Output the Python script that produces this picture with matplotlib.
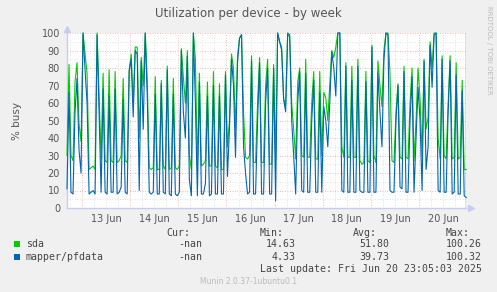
import numpy as np
import pandas as pd
import matplotlib
matplotlib.use('Agg')
import matplotlib.pyplot as plt
import matplotlib.dates as mdates
from matplotlib.patches import Rectangle

# hourly samples, % busy (12 Jun 16:30 -> 20 Jun 23:30)
sda = [30, 82, 30, 27, 72, 83, 48, 38, 100, 88,
       77, 22, 23, 24, 22, 100, 65, 28, 77, 27,
       26, 79, 27, 26, 78, 26, 27, 30, 74, 27,
       26, 79, 88, 60, 92, 92, 40, 86, 70, 100,
       73, 23, 22, 23, 75, 22, 22, 73, 24, 22,
       81, 22, 23, 74, 23, 22, 24, 91, 75, 60,
       90, 30, 22, 100, 85, 24, 77, 24, 25, 27,
       72, 24, 24, 78, 24, 23, 71, 22, 22, 78,
       35, 50, 88, 80, 45, 87, 97, 99, 55, 29,
       28, 30, 87, 26, 26, 60, 86, 26, 26, 70,
       85, 25, 25, 82, 28, 100, 95, 92, 62, 59,
       99, 98, 60, 45, 28, 72, 80, 30, 29, 85,
       29, 29, 60, 78, 28, 28, 78, 30, 66, 63,
       50, 71, 90, 86, 92, 100, 100, 35, 29, 83,
       29, 29, 81, 29, 29, 85, 27, 25, 26, 78,
       27, 26, 93, 30, 26, 84, 70, 58, 90, 100,
       100, 77, 27, 26, 55, 71, 29, 28, 81, 29,
       28, 60, 80, 27, 50, 80, 62, 30, 85, 45,
       52, 95, 80, 100, 100, 40, 28, 87, 30, 28,
       60, 87, 28, 29, 83, 28, 29, 73, 22, 22]

pfdata = [11, 66, 9, 8, 55, 74, 33, 20, 100, 79,
          60, 8, 9, 10, 8, 99, 55, 9, 68, 9,
          8, 64, 9, 9, 68, 8, 9, 12, 62, 9,
          8, 78, 85, 52, 90, 88, 10, 84, 45, 100,
          64, 9, 8, 9, 65, 8, 8, 71, 9, 8,
          79, 8, 7, 65, 8, 7, 9, 90, 55, 40,
          87, 16, 7, 100, 60, 7, 72, 8, 8, 14,
          64, 7, 8, 70, 8, 8, 64, 8, 8, 76,
          18, 46, 85, 70, 29, 83, 97, 99, 35, 20,
          8, 9, 84, 8, 8, 50, 83, 8, 8, 60,
          80, 8, 8, 80, 4, 100, 95, 90, 62, 55,
          100, 99, 50, 30, 8, 60, 78, 10, 9, 77,
          9, 9, 50, 73, 9, 9, 66, 9, 58, 50,
          35, 60, 89, 80, 64, 100, 100, 10, 9, 81,
          9, 9, 73, 9, 9, 81, 10, 9, 9, 72,
          9, 9, 92, 9, 9, 77, 55, 35, 85, 100,
          99, 10, 9, 9, 50, 70, 12, 11, 78, 9,
          9, 50, 75, 9, 40, 69, 50, 10, 84, 22,
          35, 93, 69, 99, 100, 10, 9, 85, 9, 9,
          55, 84, 8, 9, 76, 8, 8, 67, 7, 6]

labels = ['sda', 'mapper/pfdata']
colors = ['#00CC00', '#0066B3']
cur = ['-nan', '-nan']
mins = ['14.63', '4.33']
avgs = ['51.80', '39.73']
maxs = ['100.26', '100.32']

times = pd.date_range('2025-06-12 16:30', periods=len(sda), freq='h')
t_end = times[0] + pd.Timedelta(hours=198.9)

W, H = 497, 292
fig = plt.figure(figsize=(W / 100, H / 100), dpi=100, facecolor='#F0F0F0')
ax = fig.add_axes([67 / W, 84 / H, 399 / W, 175 / H])
ax.set_facecolor('white')

# grid
for v in range(5, 101, 5):
    c = '#F2A0A0' if v % 10 == 0 else '#D8D8D8'
    ax.axhline(v, color=c, lw=0.6, ls=(0, (1, 2)), zorder=1)
for g in pd.date_range('2025-06-12 18:00', t_end, freq='6h'):
    c = '#F2A0A0' if g.hour == 0 else '#D8D8D8'
    ax.axvline(g, color=c, lw=0.6, ls=(0, (1, 2)), zorder=1)

ax.plot(times, sda, color=colors[0], lw=0.8, zorder=3, clip_on=False)
ax.plot(times, pfdata, color=colors[1], lw=0.8, zorder=4, clip_on=False)
ax.axvline(t_end, color='#666666', lw=1.0, zorder=5)

ax.set_xlim(times[0], t_end)
ax.set_ylim(0, 100)
ax.set_yticks(range(0, 101, 10))
ax.xaxis.set_major_locator(mdates.HourLocator(byhour=12))
ax.xaxis.set_major_formatter(mdates.DateFormatter('%d Jun'))
ax.tick_params(length=0, labelsize=7, colors='#555555')
ax.tick_params(axis='y', pad=5)
ax.tick_params(axis='x', pad=4)
for s in ['top', 'right']:
    ax.spines[s].set_visible(False)
for s in ['left', 'bottom']:
    ax.spines[s].set_color('#C8CCF4')
    ax.spines[s].set_linewidth(1.0)
ax.plot([0], [1.025], marker='^', ms=4, color='#C8CCF4', transform=ax.transAxes, clip_on=False)
ax.plot([1.012], [0], marker='>', ms=4, color='#C8CCF4', transform=ax.transAxes, clip_on=False)
ax.set_ylabel('% busy', fontsize=7.5, color='#555555', labelpad=14)

fig.text(248 / W, 1 - 13 / H, 'Utilization per device - by week', ha='center', va='center',
         fontsize=8.5, color='#555555')
fig.text(489 / W, 1 - 6 / H, 'RRDTOOL / TOBI OETIKER', rotation=270, ha='center', va='top',
         fontsize=5, color='#BBBBBB')

mono = 'DejaVu Sans Mono'
fs = 7.1
ty = lambda y: 1 - y / H
for x, txt in [(190, 'Cur:'), (284, 'Min:'), (377, 'Avg:'), (470, 'Max:')]:
    fig.text(x / W, ty(233), txt, ha='right', va='center', family=mono, fontsize=fs, color='#444444')
for k in range(2):
    y = 244 + 13 * k
    fig.patches.append(Rectangle((14 / W, ty(y + 3)), 6 / W, 6 / H, transform=fig.transFigure,
                                 facecolor=colors[k], edgecolor='none'))
    fig.text(26 / W, ty(y), labels[k], ha='left', va='center', family=mono, fontsize=fs, color='#444444')
    for x, txt in [(202, cur[k]), (296, mins[k]), (389, avgs[k]), (482, maxs[k])]:
        fig.text(x / W, ty(y), txt, ha='right', va='center', family=mono, fontsize=fs, color='#444444')
fig.text(482 / W, ty(269), 'Last update: Fri Jun 20 23:05:03 2025', ha='right', va='center',
         family=mono, fontsize=fs, color='#444444')
fig.text(248 / W, ty(281), 'Munin 2.0.37-1ubuntu0.1', ha='center', va='center',
         fontsize=5.5, color='#BBBBBB')

fig.savefig('out.png', dpi=100, facecolor=fig.get_facecolor())
